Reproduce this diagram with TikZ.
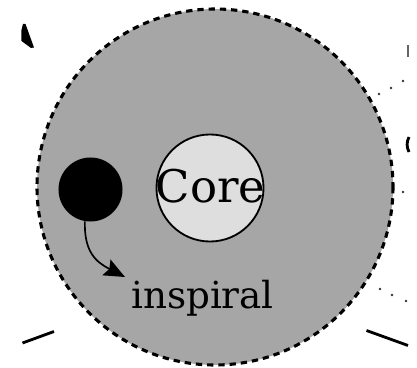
\documentclass[tikz,border=0pt]{standalone}
\usepackage{fontspec}
\setmainfont{DejaVu Serif}
\usetikzlibrary{arrows.meta}

\tikzset{
	huelle/.style={draw=black, fill=black!35, line width=2.2pt, dash pattern=on 4.5pt off 3.5pt},
	kern/.style={circle, draw=black, fill=black!13, line width=1.3pt, minimum size=2.675cm, inner sep=0pt},
	kerntext/.style={font=\fontsize{32}{36}\selectfont, inner sep=0pt},
	stern/.style={circle, fill=black, minimum size=1.6cm, inner sep=0pt},
	pfeil/.style={line width=1.2pt, -{Stealth[length=0.52cm, width=0.44cm, inset=0.08cm]}},
	rand/.style={line width=2pt}
}

\begin{document}
\begin{tikzpicture}[x=0.025cm, y=-0.025cm]
		\useasboundingbox (0,0) rectangle (417,368);
		% Huelle mit Kern
		\draw [huelle] (215,187) circle (178);
		\node [kern] (kern) at (210,188) {};
		\node [kerntext, anchor=base] (kernname) at (210.5,203) {Core};
		\node [stern] (stern) at (90.5,189.5) {};
		% Einspiralen
		\coordinate (spitze) at (125,277);
		\draw [pfeil] (stern.-100) .. controls (84,252) and (96,262) .. (spitze);
		\node [anchor=base, font=\fontsize{26.5}{30}\selectfont] (inspiral) at (202.5,309) {inspiral};
		% Reste am Bildrand
		\fill (23,24) -- (25.5,24) -- (34,47.5) -- (31,48) -- (21.5,41) -- (21.5,30) -- cycle;
		\draw [rand] (22.5,343) -- (54,331.5);
		\draw [rand] (366.5,330.5) -- (408,345.5);
		\draw [line width=1.6pt, black!60] (408,45) -- (408,57);
		\draw [line width=2pt] (409,137) .. controls (406.5,142) and (406.5,147) .. (409,152);
		% Punkte
		\foreach \x/\y in {
			379/94, 391/88, 403/81,
			403/192,
			380/289, 392/295, 406/301
		} {
			\fill [black!80] (\x,\y) circle (1.4);
		}
	\end{tikzpicture}
\end{document}
